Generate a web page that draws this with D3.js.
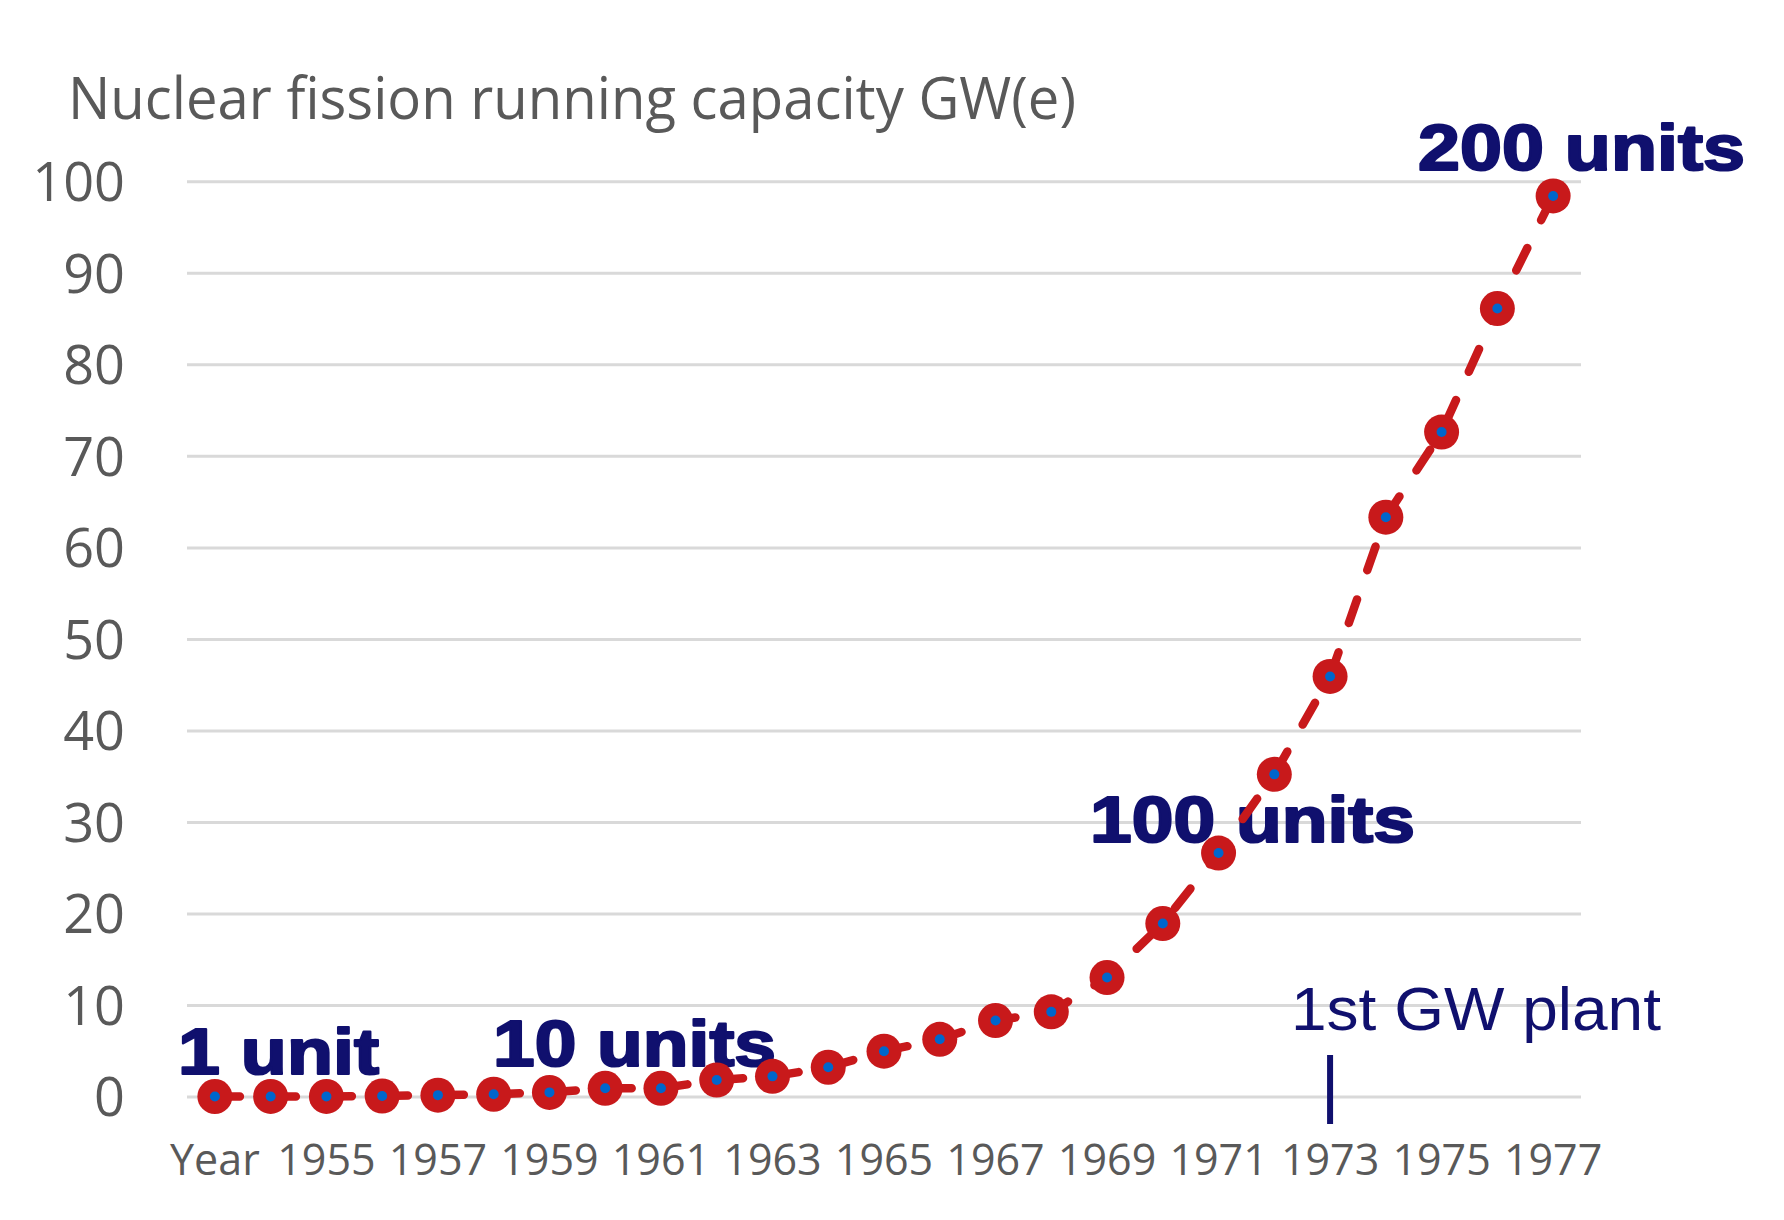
<!DOCTYPE html>
<html>
<head>
<meta charset="utf-8">
<script src="https://cdn.jsdelivr.net/npm/d3@7"></script>
<style>
  html, body { margin: 0; padding: 0; background: #ffffff; }
  svg { display: block; }
</style>
</head>
<body>
<svg id="chart" width="1784" height="1220"></svg>
<script>
// ---- data ----
const categories = ["Year", "1954", "1955", "1956", "1957", "1958", "1959", "1960", "1961", "1962",
  "1963", "1964", "1965", "1966", "1967", "1968", "1969", "1970", "1971", "1972",
  "1973", "1974", "1975", "1976", "1977"];
const capacityGW = [0, 0.005, 0.005, 0.05, 0.15, 0.25, 0.45, 0.9, 0.9, 1.8,
  2.2, 3.2, 4.95, 6.25, 8.3, 9.25, 13.0, 18.9, 26.6, 35.2,
  45.9, 63.3, 72.6, 86.1, 98.4];
const xTickLabels = ["Year", "1955", "1957", "1959", "1961", "1963", "1965", "1967", "1969", "1971", "1973", "1975", "1977"];
const yTicks = [0, 10, 20, 30, 40, 50, 60, 70, 80, 90, 100];
const titleText = "Nuclear fission running capacity GW(e)";
const unitLabels = [
  { text: "1 unit", x: 178, y: 1074, len: 201 },
  { text: "10 units", x: 493, y: 1066, len: 283 },
  { text: "100 units", x: 1090, y: 842, len: 325 },
  { text: "200 units", x: 1418, y: 170, len: 327 }
];
const markerYear = "1973";
const markerText = "1st GW plant";

// ---- layout ----
const svg = d3.select("#chart");
const plotLeft = 187, plotRight = 1581, plotTop = 181.3, plotBottom = 1096.5;

const x = d3.scaleBand().domain(categories).range([plotLeft, plotRight]).paddingInner(0).paddingOuter(0);
const y = d3.scaleLinear().domain([0, 100]).range([plotBottom, plotTop]);
const cx = d => x(d) + x.bandwidth() / 2;

svg.append("rect").attr("width", 1784).attr("height", 1220).attr("fill", "#ffffff");

// gridlines + y labels
const yAxis = svg.append("g")
  .attr("transform", `translate(${plotLeft},0)`)
  .call(d3.axisLeft(y).tickValues(yTicks).tickSize(-(plotRight - plotLeft)).tickPadding(62).tickFormat(d3.format("d")));
yAxis.select(".domain").remove();
yAxis.selectAll(".tick line").attr("stroke", "#D9D9D9").attr("stroke-width", 3);
yAxis.selectAll(".tick text")
  .attr("fill", "#595959")
  .attr("font-family", "'Open Sans', sans-serif")
  .attr("font-size", 54)
  .attr("dy", "0.36em");

// x labels
const xAxis = svg.append("g")
  .attr("transform", `translate(0,${plotBottom})`)
  .call(d3.axisBottom(x).tickValues(xTickLabels).tickSize(0).tickPadding(0));
xAxis.select(".domain").remove();
xAxis.selectAll(".tick text")
  .attr("fill", "#595959")
  .attr("font-family", "'Open Sans', sans-serif")
  .attr("font-size", 43)
  .attr("dy", null)
  .attr("y", 78.5);

// title
svg.append("text")
  .attr("x", 68).attr("y", 119)
  .attr("fill", "#595959")
  .attr("font-family", "'Open Sans', sans-serif")
  .attr("font-size", 58)
  .attr("textLength", 1008)
  .attr("lengthAdjust", "spacingAndGlyphs")
  .text(titleText);

// annotations
svg.selectAll("text.unit").data(unitLabels).enter().append("text")
  .attr("class", "unit")
  .attr("x", d => d.x).attr("y", d => d.y)
  .attr("fill", "#10106E")
  .attr("stroke", "#10106E")
  .attr("stroke-width", 2.2)
  .attr("stroke-linejoin", "round")
  .attr("font-family", "'Liberation Sans', Arial, sans-serif")
  .attr("font-weight", "bold")
  .attr("font-size", 65)
  .attr("textLength", d => d.len)
  .attr("lengthAdjust", "spacingAndGlyphs")
  .text(d => d.text);

svg.append("text")
  .attr("x", 1291).attr("y", 1030)
  .attr("fill", "#10106E")
  .attr("font-family", "'Liberation Sans', Arial, sans-serif")
  .attr("font-size", 62)
  .attr("textLength", 370)
  .attr("lengthAdjust", "spacingAndGlyphs")
  .text(markerText);

svg.append("line")
  .attr("x1", cx(markerYear)).attr("x2", cx(markerYear))
  .attr("y1", 1055).attr("y2", 1124)
  .attr("stroke", "#10106E").attr("stroke-width", 6);

// series
const pts = categories.map((c, i) => ({ c, v: capacityGW[i] }));
const line = d3.line().x(d => cx(d.c)).y(d => y(d.v));

svg.append("path")
  .datum(pts)
  .attr("d", line)
  .attr("fill", "none")
  .attr("stroke", "#C8191B")
  .attr("stroke-width", 8.5)
  .attr("stroke-linecap", "round")
  .attr("stroke-dasharray", "25 31");

svg.selectAll("circle.outer").data(pts).enter().append("circle")
  .attr("class", "outer")
  .attr("cx", d => cx(d.c)).attr("cy", d => y(d.v))
  .attr("r", 17.5)
  .attr("fill", "#C8191B");

svg.selectAll("circle.inner").data(pts).enter().append("circle")
  .attr("class", "inner")
  .attr("cx", d => cx(d.c)).attr("cy", d => y(d.v))
  .attr("r", 5)
  .attr("fill", "#0066CC");
</script>
</body>
</html>
